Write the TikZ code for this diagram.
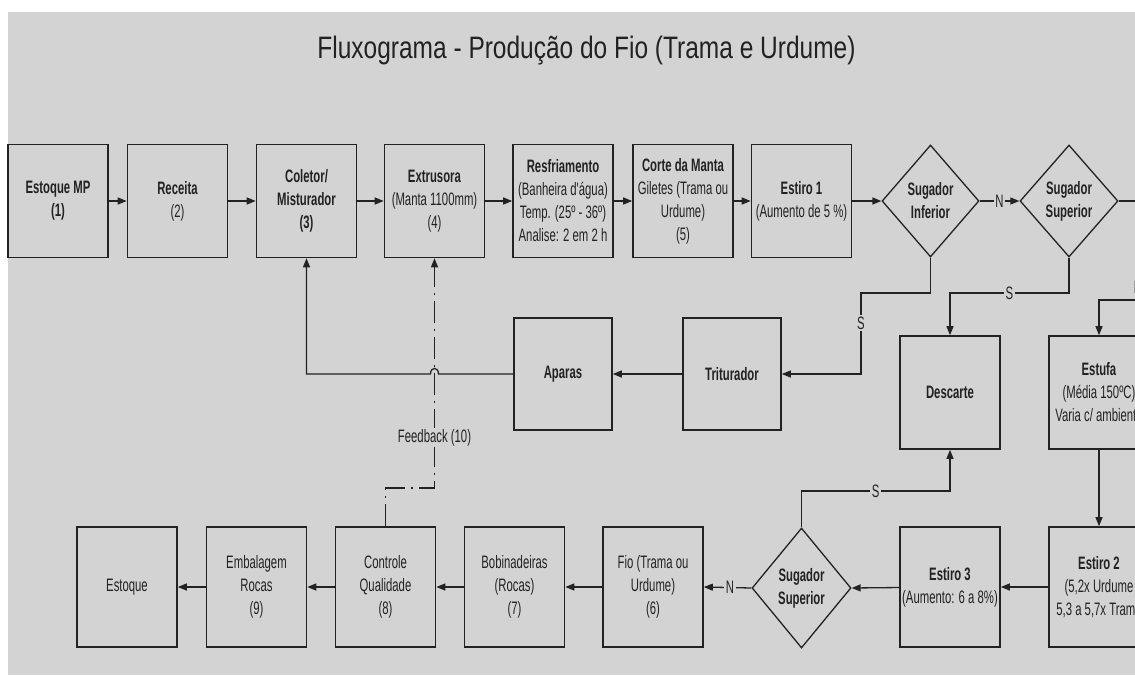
\documentclass[tikz,border=0pt]{standalone}
\usepackage{fontspec}
\setmainfont{Liberation Sans}
\newfontfamily\boxfont{Liberation Sans}[FakeStretch=0.63]
\newfontfamily\titlefont{Liberation Sans}[FakeStretch=0.79]
\usetikzlibrary{shapes.geometric,arrows.meta}
\definecolor{bg}{HTML}{D3D3D3}
\definecolor{ink}{HTML}{222222}
\tikzset{
  box/.style={draw=ink, line width=1.6pt, fill=bg, minimum width=100pt, minimum height=113pt,
    inner sep=0pt, align=center, text=ink, font=\boxfont\fontsize{18pt}{23pt}\selectfont},
  dia/.style={draw=ink, line width=1.3pt, fill=bg, diamond, inner sep=0pt, align=center,
    text=ink, font=\boxfont\fontsize{18pt}{23pt}\selectfont},
  conn/.style={draw=ink, line width=1.3pt, -{Triangle[length=9pt,width=7pt]}},
  fbline/.style={draw=ink, line width=1.3pt, dash pattern=on 22pt off 6pt on 2pt off 6pt,
    -{Triangle[length=9pt,width=7pt]}},
  lab/.style={fill=bg, inner sep=1.5pt, text=ink, font=\boxfont\fontsize{18pt}{20pt}\selectfont}
}
\begin{document}
\begin{tikzpicture}[x=1pt,y=-1pt]
\useasboundingbox (0,0) rectangle (1135,675);
\fill[white] (0,0) rectangle (1135,675);
\fill[bg] (8,12) rectangle (1135,675);
\clip (0,0) rectangle (1135,675);

\node[text=ink, font=\titlefont\fontsize{31pt}{36pt}\selectfont, anchor=base] (title) at (586.5,58) {Fluxograma - Produção do Fio (Trama e Urdume)};

% top row
\node[box] (est) at (58,201) {\textbf{Estoque MP}\\\textbf{(1)}};
\node[box] (rec) at (177.5,201) {\textbf{Receita}\\(2)};
\node[box] (col) at (306.5,201) {\textbf{Coletor/}\\\textbf{Misturador}\\\textbf{(3)}};
\node[box] (ext) at (434.5,201) {\textbf{Extrusora}\\(Manta 1100mm)\\(4)};
\node[box] (res) at (563,201) {\textbf{Resfriamento}\\(Banheira d'água)\\Temp. (25º - 36º)\\Analise: 2 em 2 h};
\node[box] (cor) at (683,201) {\textbf{Corte da Manta}\\Giletes (Trama ou\\Urdume)\\(5)};
\node[box] (e1) at (801.5,201) {\textbf{Estiro 1}\\(Aumento de 5 \%)};
\node[dia, minimum width=97pt, minimum height=112pt] (si) at (930.5,201) {\textbf{Sugador}\\\textbf{Inferior}};
\node[dia, minimum width=98pt, minimum height=112pt] (ss) at (1069,201) {\textbf{Sugador}\\\textbf{Superior}};

% middle row
\node[box, minimum width=98pt, minimum height=112pt] (tri) at (732,374) {\textbf{Triturador}};
\node[box, minimum width=98pt, minimum height=112pt] (apa) at (563,374) {\textbf{Aparas}};
\node[box] (des) at (950,392.5) {\textbf{Descarte}};
\node[box] (stf) at (1099,392.5) {\textbf{Estufa}\\(Média 150ºC)\\Varia c/ ambiente};

% bottom row
\node[box, minimum height=120pt] (e2) at (1099,587) {\textbf{Estiro 2}\\(5,2x Urdume\\5,3 a 5,7x Trama};
\node[box, minimum height=120pt] (e3) at (950,587) {\textbf{Estiro 3}\\(Aumento: 6 a 8\%)};
\node[dia, minimum width=99pt, minimum height=120pt] (ssb) at (801.5,588) {\textbf{Sugador}\\\textbf{Superior}};
\node[box, minimum height=120pt] (fio) at (653,587) {Fio (Trama ou\\Urdume)\\(6)};
\node[box, minimum height=120pt] (bob) at (514.5,587) {Bobinadeiras\\(Rocas)\\(7)};
\node[box, minimum height=120pt] (ctrl) at (385.5,587) {Controle\\Qualidade\\(8)};
\node[box, minimum height=120pt] (emb) at (256.5,587) {Embalagem\\Rocas\\(9)};
\node[box, minimum height=120pt] (estq) at (127,587) {Estoque};

% top row connectors
\draw[conn] (est) -- (rec);
\draw[conn] (rec) -- (col);
\draw[conn] (col) -- (ext);
\draw[conn] (ext) -- (res);
\draw[conn] (res) -- (cor);
\draw[conn] (cor) -- (e1);
\draw[conn] (e1) -- (si.west);
\draw[conn] (si.east) -- node[lab]{N} (ss.west);
\coordinate (rt) at (1138,201);
\coordinate (rb) at (1138,300);
\draw[conn] (ss.east) -- (rt) -- node[lab,pos=0.87]{N} (rb) -- (stf.north |- rb) -- (stf.north);

% S branches
\draw[conn] (si.south) -- (930.5,293) -- (861,293) -- node[lab,pos=0.37]{S} (861,374) -- (tri.east);
\draw[conn] (ss.south) -- (1069,293) -- node[lab,pos=0.5]{S} (950,293) -- (des.north);

% feedback
\draw[fbline] (ctrl.north) -- (385.5,488) -- (434.5,488) -- node[lab,pos=0.22]{Feedback (10)} (ext.south);

% middle connectors
\draw[conn] (tri) -- (apa);
\draw[conn] (apa.west) -- (438.5,374) .. controls (438.5,366.5) and (430.5,366.5) .. (430.5,374) -- (306.5,374) -- (col.south);

% right column and bottom row
\draw[conn] (stf.south) -- (e2.north);
\draw[conn] (e2) -- (e3);
\draw[conn] (e3) -- (ssb.east);
\draw[conn] (ssb.north) -- (801.5,491) -- node[lab,pos=0.5]{S} (950,491) -- (des.south);
\draw[conn] (ssb.west) -- node[lab,pos=0.45]{N} (fio.east);
\draw[conn] (fio) -- (bob);
\draw[conn] (bob) -- (ctrl);
\draw[conn] (ctrl) -- (emb);
\draw[conn] (emb) -- (estq);
\end{tikzpicture}
\end{document}
